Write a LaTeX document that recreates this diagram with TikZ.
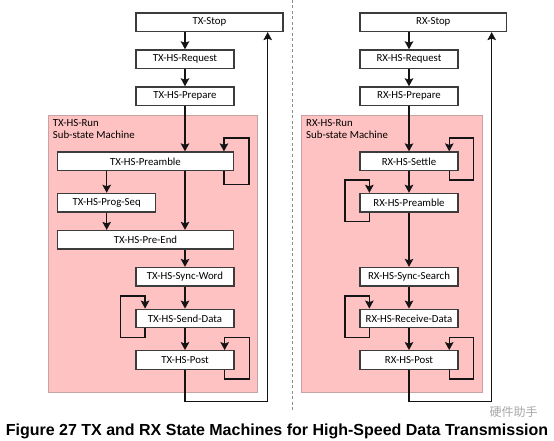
\documentclass[tikz,border=0pt]{standalone}
\usepackage{fontspec}
\setmainfont{Carlito}
\newfontfamily\capfont{Liberation Sans}
\newfontfamily\cjkfont{Noto Sans CJK SC}
\usetikzlibrary{arrows.meta, positioning, calc}
\definecolor{cpink}{HTML}{FFC2C2}
\definecolor{cpinkedge}{HTML}{C9A3A3}
\definecolor{cline}{HTML}{141414}
\definecolor{cedge}{HTML}{3C3C3C}
\definecolor{cdash}{HTML}{8C8C8C}
\definecolor{cmark}{HTML}{A8A8A8}
\tikzset{
  every picture/.style={font=\fontsize{10.8}{12}\selectfont},
  state/.style={draw=cedge, fill=white, line width=1.3pt, minimum height=18.5pt, inner sep=0pt, minimum width=#1},
  state/.default=98pt,
  runbox/.style={draw=cpinkedge, fill=cpink, line width=0.8pt, inner sep=0pt},
  runtitle/.style={anchor=north west, align=left, inner sep=0pt},
  arrow/.style={-{Stealth[length=8pt, width=8.5pt, inset=1.5pt]}, draw=cline, line width=1.5pt},
  divider/.style={draw=cdash, line width=1.2pt, dash pattern=on 3pt off 2.5pt},
  caption/.style={font=\capfont\bfseries\fontsize{16}{18}\selectfont},
  wmarktext/.style={text=cmark, font=\cjkfont\fontsize{12}{12}\selectfont},
}
\begin{document}
\begin{tikzpicture}[x=1pt, y=-1pt]
  \useasboundingbox (0,0) rectangle (554,441);
  % left: TX state machine
  \node[runbox, minimum width=209.4pt, minimum height=277.3pt] (txrun) at (153,253.7) {};
  \node[runtitle] (txruntitle) at (52.7,119.3) {TX-HS-Run\\Sub-state Machine};
  \node[state=147pt] (txstop) at (209.5,22.2) {TX-Stop};
  \node[state] (txreq) at (185,59.2) {TX-HS-Request};
  \node[state] (txprep) at (185,96.2) {TX-HS-Prepare};
  \node[state=175.6pt] (txpre) at (145.5,161.3) {TX-HS-Preamble};
  \node[state] (txprog) at (106.7,202.7) {TX-HS-Prog-Seq};
  \node[state=175.6pt] (txend) at (145.5,239.8) {TX-HS-Pre-End};
  \node[state] (txsync) at (185,276.8) {TX-HS-Sync-Word};
  \node[state] (txsend) at (185,318.5) {TX-HS-Send-Data};
  \node[state] (txpost) at (185,360) {TX-HS-Post};
  \draw[arrow] (txstop.south -| txreq) -- (txreq);
  \draw[arrow] (txreq) -- (txprep);
  \draw[arrow] (txprep) -- (txprep |- txpre.north);
  \draw[arrow] (txprog |- txpre.south) -- (txprog);
  \draw[arrow] (txprog) -- (txprog |- txend.north);
  \draw[arrow] (txprep |- txpre.south) -- (txprep |- txend.north);
  \draw[arrow] (txsync |- txend.south) -- (txsync);
  \draw[arrow] (txsync) -- (txsend);
  \draw[arrow] (txsend) -- (txpost);
  \draw[arrow] ([xshift=-10pt]txpre.south east) -- ++(0,13.3) -- ++(25,0) -- ++(0,-46.3) -- ++(-25,0) -- ([xshift=-10pt]txpre.north east);
  \draw[arrow] ([xshift=9.7pt]txsend.south west) -- ++(0,9) -- ++(-24.7,0) -- ++(0,-41.4) -- ++(24.7,0) -- ([xshift=9.7pt]txsend.north west);
  \draw[arrow] ([xshift=-10pt]txpost.south east) -- ++(0,9) -- ++(25,0) -- ++(0,-41.6) -- ++(-25,0) -- ([xshift=-10pt]txpost.north east);
  \coordinate (txret) at (267.7,401.3);
  \draw[arrow] (txpost) |- (txret) -- (txret |- txstop.south);
  % divider
  \coordinate (divtop) at (292.3,0);
  \coordinate (divbot) at (292.3,412);
  \draw[divider] (divtop) -- (divbot);
  % right: RX state machine
  \node[runbox, minimum width=180.6pt, minimum height=277.3pt] (rxrun) at (392,253.7) {};
  \node[runtitle] (rxruntitle) at (306,119.3) {RX-HS-Run\\Sub-state Machine};
  \node[state=146.7pt] (rxstop) at (433.3,22.2) {RX-Stop};
  \node[state] (rxreq) at (409,59.2) {RX-HS-Request};
  \node[state] (rxprep) at (409,96.2) {RX-HS-Prepare};
  \node[state] (rxsettle) at (409,161.3) {RX-HS-Settle};
  \node[state] (rxpre) at (409,202.7) {RX-HS-Preamble};
  \node[state] (rxsync) at (409,276.8) {RX-HS-Sync-Search};
  \node[state] (rxrecv) at (409,318.5) {RX-HS-Receive-Data};
  \node[state] (rxpost) at (409,360) {RX-HS-Post};
  \draw[arrow] (rxstop.south -| rxreq) -- (rxreq);
  \draw[arrow] (rxreq) -- (rxprep);
  \draw[arrow] (rxprep) -- (rxsettle);
  \draw[arrow] (rxsettle) -- (rxpre);
  \draw[arrow] (rxpre) -- (rxsync);
  \draw[arrow] (rxsync) -- (rxrecv);
  \draw[arrow] (rxrecv) -- (rxpost);
  \draw[arrow] ([xshift=-9.4pt]rxsettle.south east) -- ++(0,8.6) -- ++(24,0) -- ++(0,-41.6) -- ++(-24,0) -- ([xshift=-9.4pt]rxsettle.north east);
  \draw[arrow] ([xshift=10pt]rxpre.south west) -- ++(0,8.7) -- ++(-24.3,0) -- ++(0,-41.4) -- ++(24.3,0) -- ([xshift=10pt]rxpre.north west);
  \draw[arrow] ([xshift=10pt]rxrecv.south west) -- ++(0,9) -- ++(-24.3,0) -- ++(0,-41.4) -- ++(24.3,0) -- ([xshift=10pt]rxrecv.north west);
  \draw[arrow] ([xshift=-9.4pt]rxpost.south east) -- ++(0,9) -- ++(24,0) -- ++(0,-41.6) -- ++(-24,0) -- ([xshift=-9.4pt]rxpost.north east);
  \coordinate (rxret) at (491.7,401.3);
  \draw[arrow] (rxpost) |- (rxret) -- (rxret |- rxstop.south);
  % caption and mark
  \node[wmarktext, anchor=west] (wmark) at (486,412) {硬件助手};
  \node[caption] (cap) at (277,431) {Figure 27 TX and RX State Machines for High-Speed Data Transmission};
\end{tikzpicture}
\end{document}
